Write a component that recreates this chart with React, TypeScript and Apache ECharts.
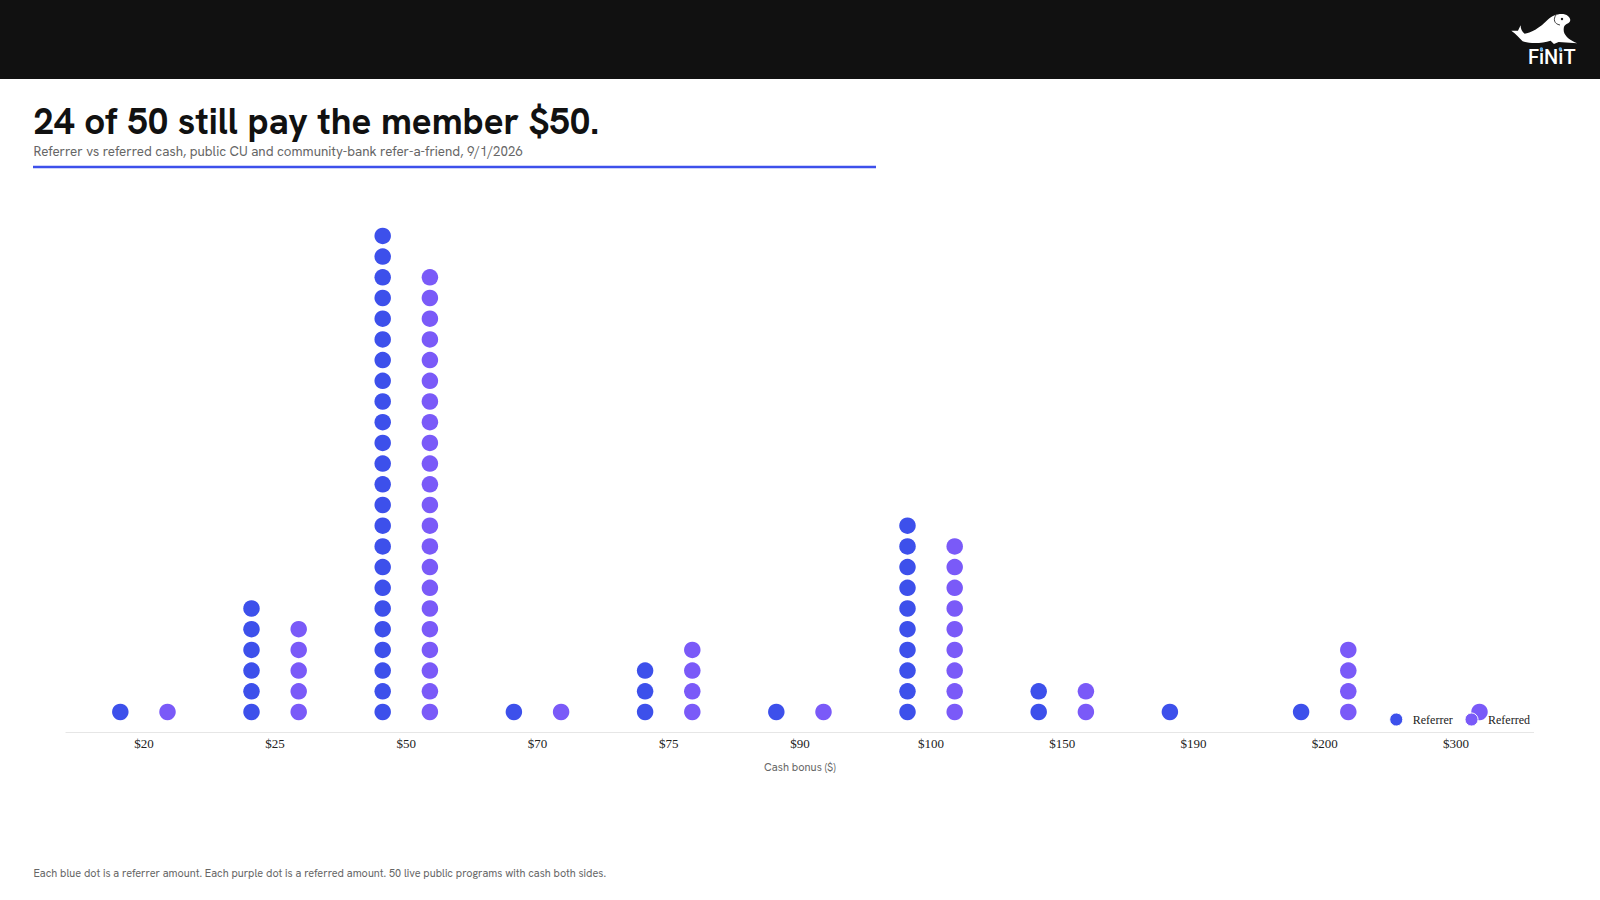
import React, { useEffect, useRef } from "react";
import * as echarts from "echarts";

const categories = ["$20", "$25", "$50", "$70", "$75", "$90", "$100", "$150", "$190", "$200", "$300"];
const referrerCounts = [1, 6, 24, 1, 3, 1, 10, 2, 1, 1, 0];
const referredCounts = [1, 5, 22, 1, 4, 1, 9, 2, 0, 4, 1];
const seriesNames = ["Referrer", "Referred"];
const titleText = "24 of 50 still pay the member $50.";
const subtitleText = "Referrer vs referred cash, public CU and community-bank refer-a-friend, 9/1/2026";
const footerText = "Each blue dot is a referrer amount. Each purple dot is a referred amount. 50 live public programs with cash both sides.";
const axisTitle = "Cash bonus ($)";

const BLUE = "#3D50EB";
const PURPLE = "#7A5AF8";
const SANS = "'Hanken Grotesk','DM Sans','Inter','Noto Sans',sans-serif";

const stack = (counts: number[]) => {
  const out: number[][] = [];
  counts.forEach((n, c) => {
    for (let i = 1; i <= n; i++) out.push([c, i]);
  });
  return out;
};

const sealPath =
  "M94 92 L114 92 L122 76 C122 86 126 96 134 101 C150 101 180 84 205 58 C218 44 250 36 264 48 C274 56 274 68 260 72 C252 76 250 84 252 96 C256 110 272 122 292 130 L236 126 L222 132 L212 122 C185 131 150 131 128 124 C118 114 108 102 94 92 Z";
echarts.graphic.registerShape("finitSeal", echarts.graphic.extendPath(sealPath, {}) as any);

export default function App() {
  const ref = useRef<HTMLDivElement>(null);
  useEffect(() => {
    document.body.style.margin = "0";
    const chart = echarts.init(ref.current!, undefined, { renderer: "svg" });
    chart.setOption({
      animation: false,
      backgroundColor: "#ffffff",
      title: {
        text: titleText,
        left: 33.5,
        top: 98.5,
        padding: 0,
        itemGap: 1,
        textStyle: { fontFamily: SANS, fontSize: 36.7, fontWeight: 700, color: "#111111", lineHeight: 44 },
        subtext: subtitleText,
        subtextStyle: { fontFamily: SANS, fontSize: 13.35, color: "#666666", lineHeight: 16 },
      },
      legend: {
        data: seriesNames,
        right: 70,
        top: 712.5,
        padding: 0,
        itemGap: 11.8,
        itemWidth: 23,
        itemHeight: 13,
        icon: "circle",
        itemStyle: { borderColor: "#ffffff", borderWidth: 1 },
        textStyle: { fontFamily: "'Liberation Serif',serif", fontSize: 12, color: "#222222" },
      },
      grid: { left: 78.3, right: 78.5, top: 194.5, bottom: 167.3 },
      xAxis: {
        type: "category",
        data: categories,
        axisLine: { show: false },
        axisTick: { show: false },
        splitLine: { show: false },
        axisLabel: { margin: 4, fontFamily: "'Liberation Serif',serif", fontSize: 13, color: "#222222" },
        name: axisTitle,
        nameLocation: "middle",
        nameGap: 29,
        nameTextStyle: { fontFamily: SANS, fontSize: 11, color: "#666666" },
      },
      yAxis: { type: "value", min: 0, max: 26, show: false },
      series: [
        {
          name: seriesNames[0],
          type: "scatter",
          symbol: "circle",
          symbolSize: 16.5,
          symbolOffset: [-23.6, 0],
          itemStyle: { color: BLUE, opacity: 1 },
          data: stack(referrerCounts),
        },
        {
          name: seriesNames[1],
          type: "scatter",
          symbol: "circle",
          symbolSize: 16.5,
          symbolOffset: [23.6, 0],
          itemStyle: { color: PURPLE, opacity: 1 },
          data: stack(referredCounts),
        },
      ],
      graphic: [
        { type: "rect", z: -10, shape: { x: 0, y: 0, width: 1600, height: 79 }, style: { fill: "#111111" } },
        { type: "rect", shape: { x: 33, y: 165.8, width: 843, height: 2.4 }, style: { fill: BLUE } },
        { type: "line", shape: { x1: 65.5, y1: 732.5, x2: 1534, y2: 732.5 }, style: { stroke: "#e6e6e6", lineWidth: 1 } },
        { type: "text", x: 33.5, y: 867, style: { text: footerText, fontFamily: SANS, fontSize: 10.85, fill: "#666666" } },
        { type: "finitSeal", x: 1480, y: 0, scaleX: 1 / 3, scaleY: 1 / 3, style: { fill: "#ffffff" } },
        { type: "circle", shape: { cx: 1562, cy: 19, r: 1.2 }, style: { fill: "#111111" } },
        { type: "bezierCurve", shape: { x1: 1556, y1: 15, cpx1: 1553, cpy1: 19, cpx2: 1554, cpy2: 24, x2: 1560, y2: 25 }, style: { stroke: "#111111", lineWidth: 0.8, fill: "none" } },
        { type: "text", x: 1528, y: 46.5, style: { text: "FiNiT", fontFamily: "Roboto,sans-serif", fontSize: 20, fill: "#ffffff", fontWeight: 500 } },
        { type: "circle", shape: { cx: 1541.4, cy: 49, r: 1.7 }, style: { fill: "#5AA9E6" } },
        { type: "circle", shape: { cx: 1560.3, cy: 49, r: 1.7 }, style: { fill: "#5AA9E6" } },
      ],
    });
    return () => chart.dispose();
  }, []);
  return <div ref={ref} style={{ width: 1600, height: 900 }} />;
}
